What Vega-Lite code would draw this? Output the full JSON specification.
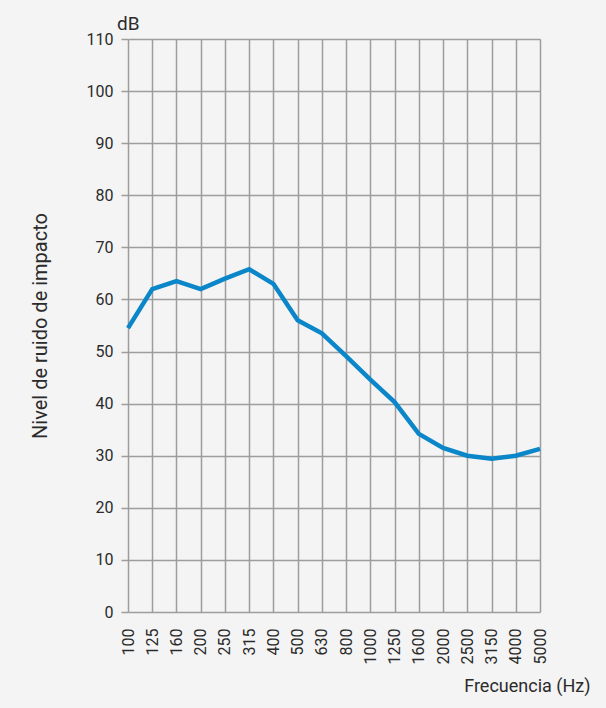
{
  "$schema": "https://vega.github.io/schema/vega-lite/v6.json",
  "width": 412,
  "height": 573,
  "autosize": {"type": "none"},
  "padding": {"left": 128, "top": 39, "right": 66, "bottom": 96},
  "background": "#f4f4f4",
  "config": {
    "font": "Roboto, Liberation Sans, sans-serif",
    "view": {"stroke": null},
    "axis": {"labelColor": "#2b2b2b", "titleColor": "#2b2b2b", "labelFontSize": 16, "titleFontSize": 19, "titleFontWeight": "normal", "gridColor": "#9d9d9d", "gridWidth": 1.5, "gridOpacity": 1, "domain": false, "tickColor": "#9d9d9d", "tickWidth": 1.5}
  },
  "title": {"text": "dB", "anchor": "start", "frame": "group", "dx": -11, "offset": 0, "baseline": "alphabetic", "dy": 18, "fontSize": 19, "fontWeight": "normal", "color": "#2b2b2b", "font": "Roboto, Liberation Sans, sans-serif"},
  "data": {"values": [
    {"f": "100", "db": 54.5},
    {"f": "125", "db": 62.0},
    {"f": "160", "db": 63.5},
    {"f": "200", "db": 62.0},
    {"f": "250", "db": 64.0},
    {"f": "315", "db": 65.8},
    {"f": "400", "db": 63.0},
    {"f": "500", "db": 56.0},
    {"f": "630", "db": 53.5},
    {"f": "800", "db": 49.1},
    {"f": "1000", "db": 44.6},
    {"f": "1250", "db": 40.3},
    {"f": "1600", "db": 34.2},
    {"f": "2000", "db": 31.5},
    {"f": "2500", "db": 30.0},
    {"f": "3150", "db": 29.4},
    {"f": "4000", "db": 30.0},
    {"f": "5000", "db": 31.3}
  ]},
  "mark": {"type": "line", "color": "#0a86c9", "strokeWidth": 4.5, "strokeJoin": "miter", "strokeCap": "butt"},
  "encoding": {
    "x": {"field": "f", "type": "ordinal", "sort": null, "scale": {"type": "point", "padding": 0},
      "axis": {"title": "Frecuencia (Hz)", "titleFontSize": 18, "labelAngle": -90, "labelPadding": 16, "ticks": false, "grid": true,
        "titleAnchor": null, "titleX": 462, "titleY": 74, "titleAlign": "right", "titleBaseline": "middle"}},
    "y": {"field": "db", "type": "quantitative", "scale": {"domain": [0, 110], "nice": false},
      "axis": {"title": "Nivel de ruido de impacto", "titleFontSize": 20, "values": [0,10,20,30,40,50,60,70,80,90,100,110], "tickSize": 7, "labelPadding": 8,
        "titleX": -88, "titleY": 286.5, "titleAngle": -90, "titleAlign": "center", "titleBaseline": "middle", "titleAnchor": null}}
  }
}
